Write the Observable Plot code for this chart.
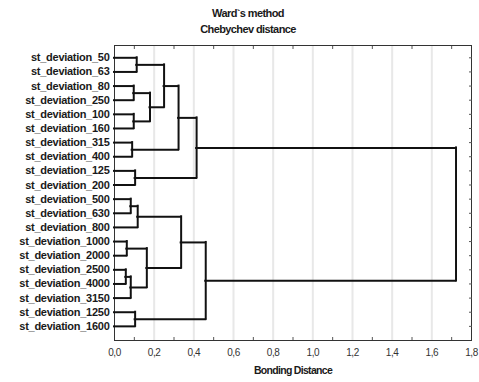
<!DOCTYPE html>
<html>
<head>
<meta charset="utf-8">
<script src="https://cdn.jsdelivr.net/npm/d3@7"></script>
<script src="https://cdn.jsdelivr.net/npm/@observablehq/plot@0.6"></script>
<style>
  html, body { margin: 0; padding: 0; background: #fff; }
  #wrap { position: relative; width: 479px; height: 382px; font-family: "Liberation Sans", Arial, sans-serif; }
  #head { position: relative; width: 479px; height: 38px; }
  .t { position: absolute; left: 248px; transform: translate(-50%, -50%); font-weight: bold; font-size: 11px; letter-spacing: -0.6px; color: #1a1a1a; white-space: nowrap; }
  svg g[aria-label="y-axis tick label"] text { letter-spacing: -0.27px; }
  svg g[aria-label="x-axis tick label"] text { letter-spacing: -0.4px; }
  svg g[aria-label="text"] text { letter-spacing: -0.7px; }
</style>
</head>
<body>
<div id="wrap">
  <div id="head">
    <div class="t" style="top:13px">Ward`s method</div>
    <div class="t" style="top:29px">Chebychev distance</div>
  </div>
  <div id="chart"></div>
</div>
<script>
// Leaf order (top to bottom)
const leaves = [
  "st_deviation_50", "st_deviation_63", "st_deviation_80", "st_deviation_250",
  "st_deviation_100", "st_deviation_160", "st_deviation_315", "st_deviation_400",
  "st_deviation_125", "st_deviation_200", "st_deviation_500", "st_deviation_630",
  "st_deviation_800", "st_deviation_1000", "st_deviation_2000", "st_deviation_2500",
  "st_deviation_4000", "st_deviation_3150", "st_deviation_1250", "st_deviation_1600"
];
// Merge steps: children (leaf name or "m<k>") and bonding distance
const mergeLeft = [
  "st_deviation_50", "st_deviation_80", "st_deviation_100", "m1", "m0", "st_deviation_315",
  "m4", "st_deviation_125", "m6", "st_deviation_500", "m9", "st_deviation_1000",
  "st_deviation_2500", "m12", "m11", "m10", "st_deviation_1250", "m15", "m8"
];
const mergeRight = [
  "st_deviation_63", "st_deviation_250", "st_deviation_160", "m2", "m3", "st_deviation_400",
  "m5", "st_deviation_200", "m7", "st_deviation_630", "st_deviation_800", "st_deviation_2000",
  "st_deviation_4000", "st_deviation_3150", "m13", "m14", "st_deviation_1600", "m16", "m17"
];
const mergeHeight = [
  0.112, 0.097, 0.097, 0.179, 0.250, 0.089,
  0.323, 0.104, 0.414, 0.082, 0.117, 0.062,
  0.057, 0.082, 0.163, 0.336, 0.104, 0.460, 1.722
];
const xTicks = [0, 0.2, 0.4, 0.6, 0.8, 1.0, 1.2, 1.4, 1.6, 1.8];
const xGrid = [0.2, 0.4, 0.6, 0.8, 1.0, 1.2, 1.4, 1.6];
const xMinor = [0.1, 0.3, 0.5, 0.7, 0.9, 1.1, 1.3, 1.5, 1.7];
const xTitle = "Bonding Distance";

// Build dendrogram segments
const pos = new Map(), hgt = new Map();
leaves.forEach((l, i) => { pos.set(l, i); hgt.set(l, 0); });
const vSegs = [], hSegs = [];
mergeLeft.forEach((a, k) => {
  const b = mergeRight[k], h = mergeHeight[k];
  const ya = pos.get(a), yb = pos.get(b);
  vSegs.push({x: h, y1: ya, y2: yb});
  hSegs.push({y: ya, x1: hgt.get(a), x2: h});
  hSegs.push({y: yb, x1: hgt.get(b), x2: h});
  pos.set("m" + k, (ya + yb) / 2);
  hgt.set("m" + k, h);
});
const idx = leaves.map((_, i) => i);
const fmt = d => d3.format(".1f")(d).replace(".", ",");
const blank = () => "";

const chart = Plot.plot({
  width: 479,
  height: 344,
  marginLeft: 114,
  marginRight: 8,
  marginTop: 7,
  marginBottom: 42,
  style: {fontFamily: "'Liberation Sans', Arial, sans-serif", fontSize: "9px", color: "#222", background: "#fff"},
  x: {domain: [0, 1.8]},
  y: {domain: [20.0, -0.87]},
  marks: [
    Plot.ruleX(xGrid, {stroke: "#e8e8e8", strokeWidth: 2}),
    Plot.frame({stroke: "#333", strokeWidth: 1}),
    Plot.axisX(xMinor, {anchor: "top", tickSize: 3, dy: 3, tickFormat: blank, stroke: "#555", label: null}),
    Plot.axisX(xMinor, {anchor: "bottom", tickSize: 3, dy: -3, tickFormat: blank, stroke: "#555", label: null}),
    Plot.axisY(idx, {anchor: "right", tickSize: 3, dx: -3, tickFormat: blank, stroke: "#555", label: null}),
    Plot.ruleY(hSegs, {y: "y", x1: "x1", x2: "x2", stroke: "#111", strokeWidth: 2, strokeLinecap: "square"}),
    Plot.ruleX(vSegs, {x: "x", y1: "y1", y2: "y2", stroke: "#111", strokeWidth: 2, strokeLinecap: "square"}),
    Plot.axisY(idx, {anchor: "left", tickSize: 0, tickPadding: 5, tickFormat: i => leaves[i], fontSize: 11, fontWeight: "bold", fill: "#1a1a1a", label: null}),
    Plot.axisX(xTicks, {anchor: "bottom", tickSize: 0, tickPadding: 8, tickFormat: fmt, fontSize: 10, fill: "#333", label: null}),
    Plot.text([xTitle], {frameAnchor: "bottom", dy: 33, fontSize: 10.5, fontWeight: "bold", fill: "#1a1a1a"})
  ]
});
document.getElementById("chart").appendChild(chart);
</script>
</body>
</html>
